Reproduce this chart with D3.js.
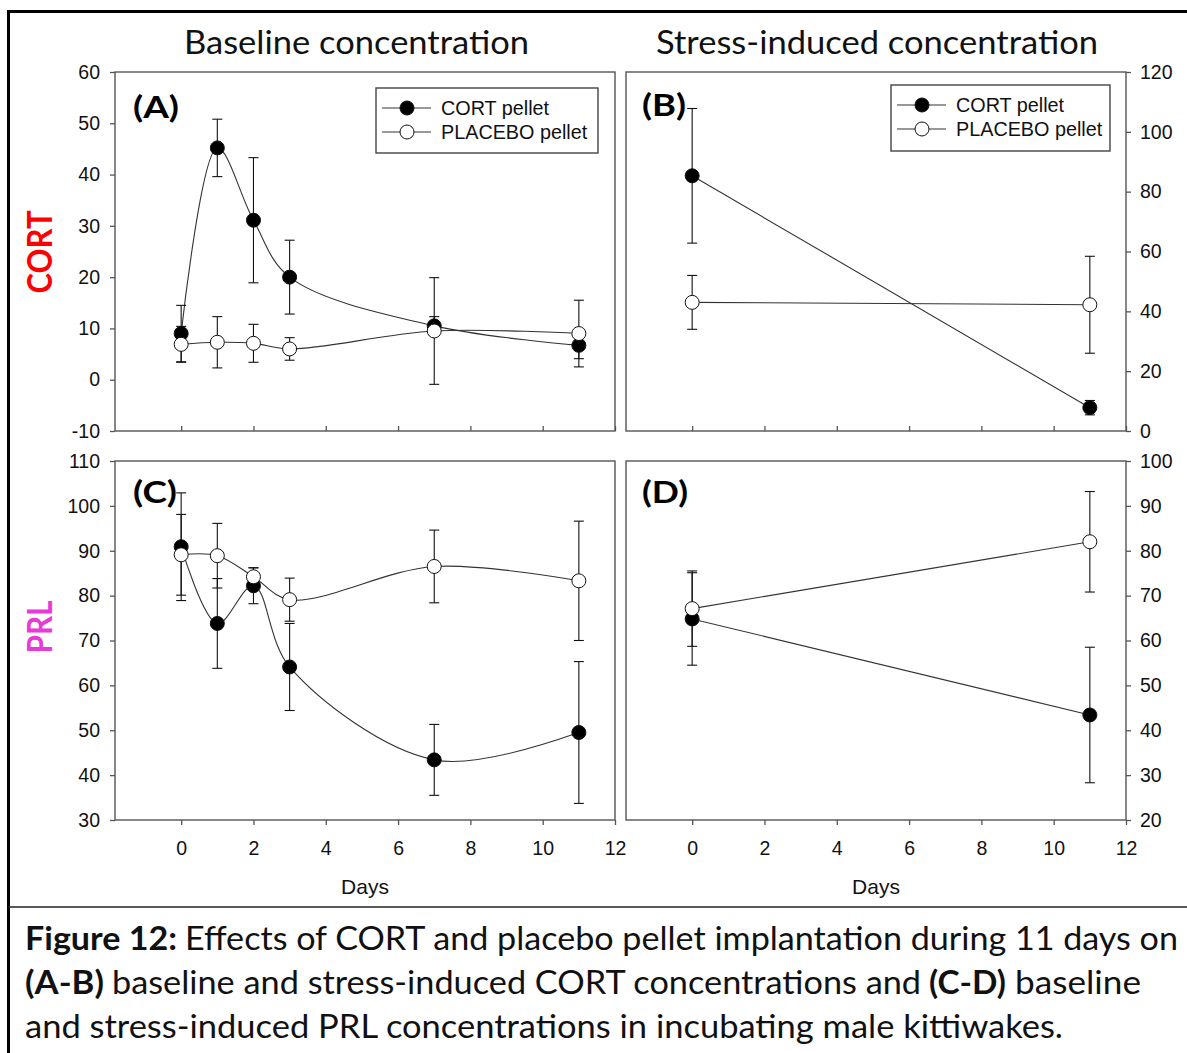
<!DOCTYPE html>
<html>
<head>
<meta charset="utf-8">
<script src="https://cdn.jsdelivr.net/npm/d3@7"></script>
<style>
  body { margin: 0; background: #fff; }
  svg { display: block; }
</style>
</head>
<body>
<svg id="chart" width="1187" height="1053"></svg>
<script>
// ---------------- DATA ----------------
const baselineDays = [0, 1, 2, 3, 7, 11];
const stressDays = [0, 11];
const xTickValues = [0, 2, 4, 6, 8, 10, 12];

const seriesNames = ["CORT pellet", "PLACEBO pellet"];

// (A) baseline CORT
const cortBaseCortPellet = [9.0, 45.2, 31.1, 20.0, 10.5, 6.7];
const cortBaseCortPelletErr = [5.5, 5.6, 12.2, 7.2, 1.8, 2.6];
const cortBasePlacebo = [6.9, 7.3, 7.1, 6.0, 9.5, 9.0];
const cortBasePlaceboErr = [3.5, 5.0, 3.7, 2.2, 10.4, 6.5];

// (B) stress-induced CORT
const cortStressCortPellet = [85.3, 7.8];
const cortStressCortPelletErr = [22.5, 2.4];
const cortStressPlacebo = [43.0, 42.2];
const cortStressPlaceboErr = [9.0, 16.2];

// (C) baseline PRL
const prlBaseCortPellet = [90.9, 73.8, 82.2, 64.1, 43.4, 49.5];
const prlBaseCortPelletErr = [12.0, 10.0, 4.0, 9.7, 7.9, 15.8];
const prlBasePlacebo = [89.1, 88.9, 84.2, 79.1, 86.5, 83.3];
const prlBasePlaceboErr = [9.0, 7.2, 2.0, 4.8, 8.1, 13.3];

// (D) stress-induced PRL
const prlStressCortPellet = [64.8, 43.4];
const prlStressCortPelletErr = [10.3, 15.1];
const prlStressPlacebo = [67.1, 82.0];
const prlStressPlaceboErr = [8.4, 11.2];

// y axis ticks
const yTicksA = [-10, 0, 10, 20, 30, 40, 50, 60];
const yTicksB = [0, 20, 40, 60, 80, 100, 120];
const yTicksC = [30, 40, 50, 60, 70, 80, 90, 100, 110];
const yTicksD = [20, 30, 40, 50, 60, 70, 80, 90, 100];

const columnTitles = ["Baseline concentration", "Stress-induced concentration"];
const rowTitles = ["CORT", "PRL"];
const panelLabels = ["(A)", "(B)", "(C)", "(D)"];
const xAxisTitle = "Days";

// ---------------- DRAW ----------------
const svg = d3.select("#chart");
const sans = "'Liberation Sans', Arial, sans-serif";
const humanist = "Lato, 'Open Sans', sans-serif";
const frameColor = "#555";
const lineColor = "#333";
const tickFont = 19.5;

// outer border
svg.append("line").attr("x1", 8.5).attr("x2", 8.5).attr("y1", 10).attr("y2", 1060)
  .attr("stroke", "#000").attr("stroke-width", 3);
svg.append("line").attr("x1", 7).attr("x2", 1200).attr("y1", 11.5).attr("y2", 11.5)
  .attr("stroke", "#000").attr("stroke-width", 3);
svg.append("line").attr("x1", 8).attr("x2", 1200).attr("y1", 907).attr("y2", 907)
  .attr("stroke", "#222").attr("stroke-width", 1.6);

const panels = [
  { left: 115, top: 72, yDomain: [-10, 60], yTicks: yTicksA, ySide: "left", bottomRow: false,
    x: baselineDays, cort: cortBaseCortPellet, cortErr: cortBaseCortPelletErr,
    plac: cortBasePlacebo, placErr: cortBasePlaceboErr, smooth: true,
    label: panelLabels[0], labelPos: [133, 118, 46],
    legend: { x: 376, y: 88, w: 222, h: 65 } },
  { left: 626, top: 72, yDomain: [0, 120], yTicks: yTicksB, ySide: "right", bottomRow: false,
    x: stressDays, cort: cortStressCortPellet, cortErr: cortStressCortPelletErr,
    plac: cortStressPlacebo, placErr: cortStressPlaceboErr, smooth: false,
    label: panelLabels[1], labelPos: [642, 116, 44],
    legend: { x: 891, y: 85, w: 219, h: 66 } },
  { left: 115, top: 461, yDomain: [30, 110], yTicks: yTicksC, ySide: "left", bottomRow: true,
    x: baselineDays, cort: prlBaseCortPellet, cortErr: prlBaseCortPelletErr,
    plac: prlBasePlacebo, placErr: prlBasePlaceboErr, smooth: true,
    label: panelLabels[2], labelPos: [133, 503, 44] },
  { left: 626, top: 461, yDomain: [20, 100], yTicks: yTicksD, ySide: "right", bottomRow: true,
    x: stressDays, cort: prlStressCortPellet, cortErr: prlStressCortPelletErr,
    plac: prlStressPlacebo, placErr: prlStressPlaceboErr, smooth: false,
    label: panelLabels[3], labelPos: [642, 503, 46] }
];

const W = 500, H = 359, R = 7, CAP = 5;

panels.forEach(p => {
  const g = svg.append("g").attr("transform", `translate(${p.left},${p.top})`);
  const x = d3.scaleLinear().domain([-1.83, 12]).range([0, W]);
  const y = d3.scaleLinear().domain(p.yDomain).range([H, 0]);

  // y axis
  const yAxis = (p.ySide === "left" ? d3.axisLeft(y) : d3.axisRight(y))
    .tickValues(p.yTicks).tickSize(5).tickPadding(p.ySide === "left" ? 10 : 9)
    .tickFormat(d => String(d));
  const ya = g.append("g").attr("transform", p.ySide === "left" ? "translate(0,0)" : `translate(${W},0)`)
    .call(yAxis);
  ya.select(".domain").remove();
  ya.selectAll("line").attr("stroke", frameColor).attr("stroke-width", 1.3);
  ya.selectAll("text").attr("font-family", sans).attr("font-size", tickFont).attr("fill", "#111");

  // x axis
  if (p.bottomRow) {
    const xa = g.append("g").attr("transform", `translate(0,${H})`)
      .call(d3.axisBottom(x).tickValues(xTickValues).tickSize(5).tickPadding(16)
        .tickFormat(d => String(d)));
    xa.select(".domain").remove();
    xa.selectAll("line").attr("stroke", frameColor).attr("stroke-width", 1.3);
    xa.selectAll("text").attr("font-family", sans).attr("font-size", tickFont).attr("fill", "#111");
    g.append("text").attr("x", W / 2).attr("y", H + 74).attr("text-anchor", "middle")
      .attr("font-family", sans).attr("font-size", 21).attr("fill", "#111").text(xAxisTitle);
  } else {
    const xa = g.append("g").attr("transform", `translate(0,${H})`)
      .call(d3.axisTop(x).tickValues(xTickValues).tickSize(5).tickFormat(""));
    xa.select(".domain").remove();
    xa.selectAll("line").attr("stroke", frameColor).attr("stroke-width", 1.3);
  }

  // frame
  g.append("rect").attr("x", 0).attr("y", 0).attr("width", W).attr("height", H)
    .attr("fill", "none").attr("stroke", frameColor).attr("stroke-width", 1.4);

  const line = d3.line().x(d => x(d[0])).y(d => y(d[1]))
    .curve(p.smooth ? d3.curveCatmullRom.alpha(0.5) : d3.curveLinear);

  const series = [
    { vals: p.cort, err: p.cortErr, fill: "#000" },
    { vals: p.plac, err: p.placErr, fill: "#fff" }
  ];

  // lines
  series.forEach(s => {
    g.append("path").datum(p.x.map((d, i) => [d, s.vals[i]]))
      .attr("d", line).attr("fill", "none").attr("stroke", lineColor).attr("stroke-width", 1.1);
  });
  // error bars
  series.forEach(s => {
    p.x.forEach((d, i) => {
      const cx = x(d), lo = y(s.vals[i] - s.err[i]), hi = y(s.vals[i] + s.err[i]);
      g.append("line").attr("x1", cx).attr("x2", cx).attr("y1", lo).attr("y2", hi)
        .attr("stroke", "#111").attr("stroke-width", 1.1);
      [lo, hi].forEach(yy => g.append("line").attr("x1", cx - CAP).attr("x2", cx + CAP)
        .attr("y1", yy).attr("y2", yy).attr("stroke", "#111").attr("stroke-width", 1.1));
    });
  });
  // markers
  series.forEach(s => {
    p.x.forEach((d, i) => {
      g.append("circle").attr("cx", x(d)).attr("cy", y(s.vals[i])).attr("r", R)
        .attr("fill", s.fill).attr("stroke", "#111").attr("stroke-width", 1);
    });
  });

  // panel label
  svg.append("text").attr("x", p.labelPos[0]).attr("y", p.labelPos[1])
    .attr("font-family", humanist).attr("font-weight", "bold").attr("font-size", 31)
    .attr("textLength", p.labelPos[2]).attr("lengthAdjust", "spacingAndGlyphs")
    .attr("fill", "#000").text(p.label);

  // legend
  if (p.legend) {
    const L = p.legend;
    svg.append("rect").attr("x", L.x).attr("y", L.y).attr("width", L.w).attr("height", L.h)
      .attr("fill", "#fff").attr("stroke", "#444").attr("stroke-width", 1.4);
    series.forEach((s, i) => {
      const yy = L.y + 20 + i * 24;
      svg.append("line").attr("x1", L.x + 6).attr("x2", L.x + 55).attr("y1", yy).attr("y2", yy)
        .attr("stroke", lineColor).attr("stroke-width", 1.1);
      svg.append("circle").attr("cx", L.x + 31).attr("cy", yy).attr("r", R)
        .attr("fill", s.fill).attr("stroke", "#111").attr("stroke-width", 1);
      svg.append("text").attr("x", L.x + 65).attr("y", yy + 7)
        .attr("font-family", sans).attr("font-size", 19.8).attr("fill", "#111").text(seriesNames[i]);
    });
  }
});

// column titles
[[columnTitles[0], 184, 345], [columnTitles[1], 656, 442]].forEach(([t, x0, w]) => {
  svg.append("text").attr("x", x0).attr("y", 54).attr("font-family", humanist)
    .attr("font-size", 32).attr("textLength", w).attr("lengthAdjust", "spacingAndGlyphs")
    .attr("fill", "#111").text(t);
});

// row titles
[[rowTitles[0], 252, "#ff0000", 83], [rowTitles[1], 627, "#e83ad8", 53]].forEach(([t, cy, c, len]) => {
  svg.append("text").attr("transform", `translate(52,${cy}) rotate(-90)`)
    .attr("text-anchor", "middle").attr("font-family", humanist).attr("font-weight", "bold")
    .attr("font-size", 34).attr("textLength", len).attr("lengthAdjust", "spacingAndGlyphs")
    .attr("fill", c).text(t);
});

// caption
const captionSegments = [
  { t: "Figure 12:", x: 25, w: 152, y: 950, b: true },
  { t: "Effects of CORT and placebo pellet implantation during 11 days on", x: 185, w: 993, y: 950, b: false },
  { t: "(A-B)", x: 25, w: 79, y: 994, b: true },
  { t: "baseline and stress-induced CORT concentrations and", x: 112, w: 809, y: 994, b: false },
  { t: "(C-D)", x: 929, w: 77, y: 994, b: true },
  { t: "baseline", x: 1015, w: 126, y: 994, b: false },
  { t: "and stress-induced PRL concentrations in incubating male kittiwakes.", x: 25, w: 1038, y: 1038, b: false }
];
captionSegments.forEach(s => {
  svg.append("text").attr("x", s.x).attr("y", s.y).attr("font-family", humanist)
    .attr("font-size", 32).attr("font-weight", s.b ? "bold" : "normal")
    .attr("textLength", s.w).attr("lengthAdjust", "spacingAndGlyphs")
    .attr("fill", "#111").text(s.t);
});
</script>
</body>
</html>
